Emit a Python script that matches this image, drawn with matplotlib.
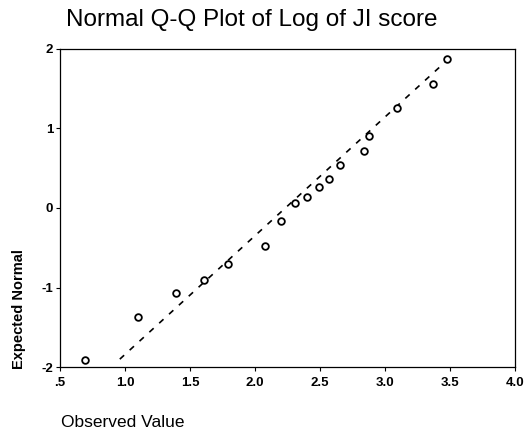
import matplotlib.pyplot as plt

# --- data ---
observed = [0.69, 1.10, 1.39, 1.61, 1.79, 2.08, 2.20, 2.31, 2.40, 2.49,
            2.57, 2.65, 2.84, 2.88, 3.09, 3.37, 3.48]
expected = [-1.91, -1.37, -1.07, -0.90, -0.70, -0.48, -0.16, 0.06, 0.14, 0.26,
            0.37, 0.54, 0.71, 0.91, 1.26, 1.56, 1.87]
line_x = [0.96, 3.52]
line_y = [-1.90, 1.92]

x_ticks = [0.5, 1.0, 1.5, 2.0, 2.5, 3.0, 3.5, 4.0]
x_labels = [".5", "1.0", "1.5", "2.0", "2.5", "3.0", "3.5", "4.0"]
y_ticks = [-2, -1, 0, 1, 2]

plt.rcParams['font.family'] = ['Liberation Sans', 'DejaVu Sans']

fig = plt.figure(figsize=(5.31, 4.36), dpi=100)
ax = fig.add_axes([0.113, 0.158, 0.857, 0.730])

ax.plot(line_x, line_y, color='black', linestyle=(0, (3.5, 4.5)), linewidth=1.2)
ax.plot(observed, expected, linestyle='none', marker='o', markersize=4.8,
        markerfacecolor='white', markeredgecolor='black', markeredgewidth=1.3)

ax.set_xlim(0.5, 4.0)
ax.set_ylim(-2, 2)
ax.set_xticks(x_ticks)
ax.set_xticklabels(x_labels, fontweight='bold', fontsize=9.5)
ax.set_yticks(y_ticks)
ax.set_yticklabels([str(v) for v in y_ticks], fontweight='bold', fontsize=9.5)
ax.tick_params(length=3, width=0.8, pad=2)
ax.tick_params(axis='x', pad=4)
for s in ax.spines.values():
    s.set_linewidth(0.9)

fig.text(0.475, 0.955, "Normal Q-Q Plot of Log of JI score", ha='center', va='center',
         fontsize=17.5)
fig.text(0.115, 0.032, "Observed Value", ha='left', va='center', fontsize=12.5)
fig.text(0.036, 0.153, "Expected Normal", rotation=90, ha='center', va='bottom',
         fontsize=10.5, fontweight='bold')

fig.savefig("out.png", dpi=100)
